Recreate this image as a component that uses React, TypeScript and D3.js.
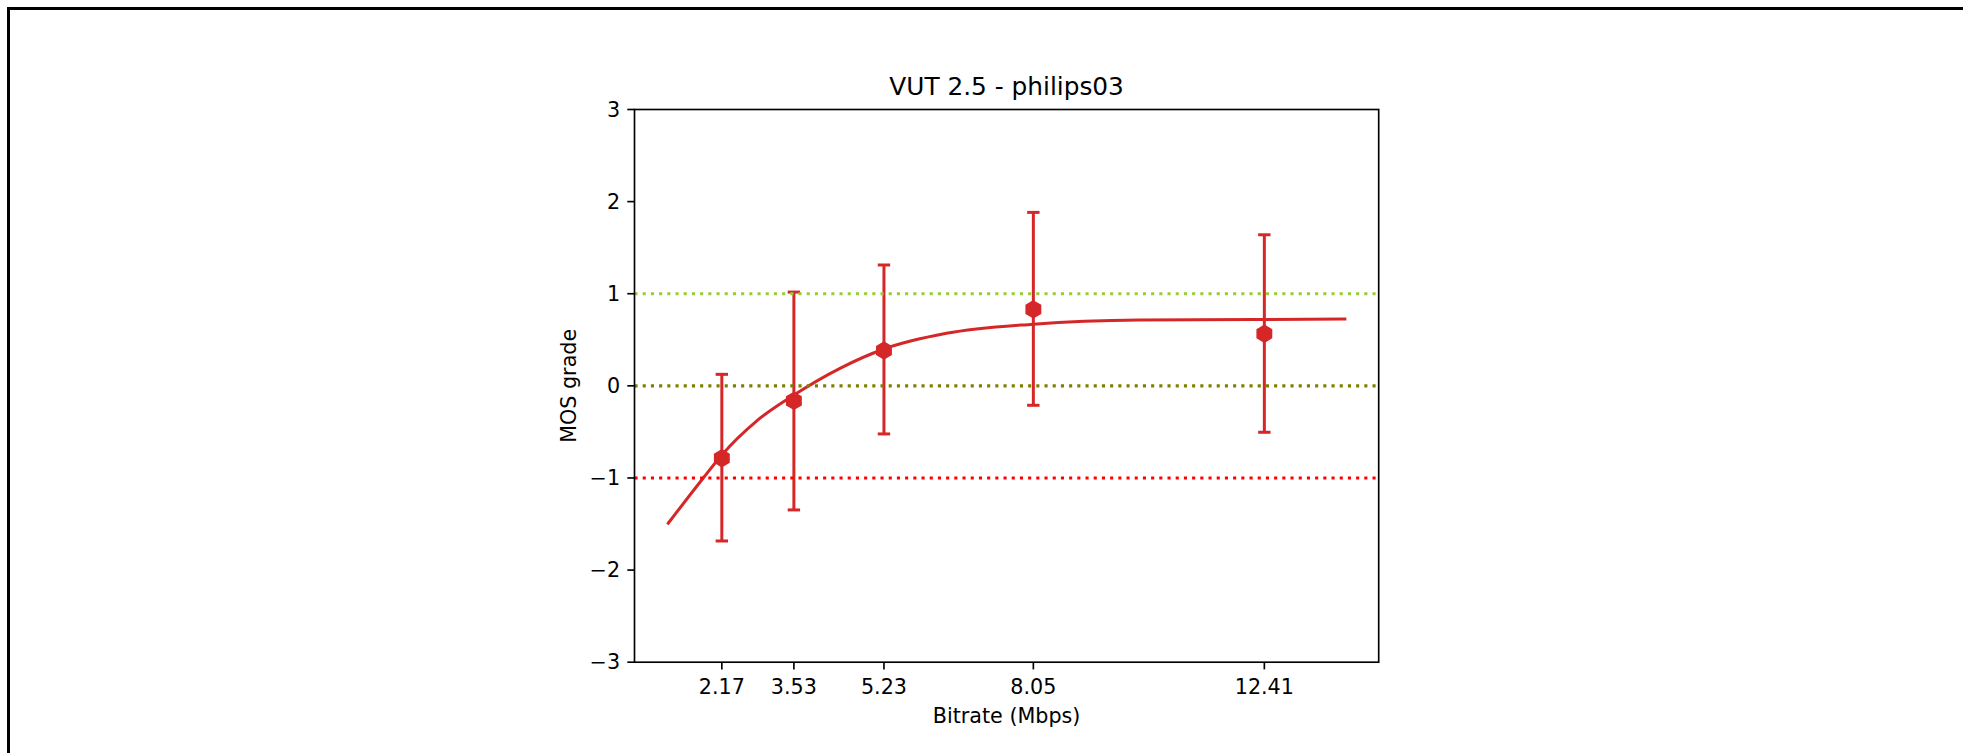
import React from "react";
import * as d3 from "d3";

const title = "VUT 2.5 - philips03";
const xLabel = "Bitrate (Mbps)";
const yLabel = "MOS grade";

const bitrates = [2.17, 3.53, 5.23, 8.05, 12.41];
const mosMean = [-0.786, -0.164, 0.384, 0.831, 0.566];
const errUpper = [0.125, 1.018, 1.312, 1.883, 1.64];
const errLower = [-1.684, -1.347, -0.522, -0.211, -0.504];

const curveX = [1.16, 1.82, 2.17, 2.83, 3.53, 4.4, 5.23, 6.41, 8.05, 10.06, 12.41, 13.93];
const curveY = [-1.49, -1.0, -0.75, -0.38, -0.1, 0.19, 0.4, 0.57, 0.67, 0.715, 0.72, 0.725];

const yTicks = [-3, -2, -1, 0, 1, 2, 3];
const refLevels = [1, 0, -1];
const refColors = ["#9acd32", "#808000", "#ff0000"];

const W = 1963;
const H = 753;
const left = 634.5;
const right = 1378.7;
const top = 109.5;
const bottom = 662.2;

const RED = "#d62728";
const FONT = "DejaVu Sans, sans-serif";

export default function App() {
  const x0 = d3.min(curveX) as number;
  const x1 = d3.max(curveX) as number;
  const span = x1 - x0;
  const x = d3.scaleLinear().domain([x0 - 0.05 * span, x1 + 0.05 * span]).range([left, right]);
  const y = d3.scaleLinear().domain([-3, 3]).range([bottom, top]);

  const line = d3
    .line<number>()
    .x((_, i) => x(curveX[i]))
    .y((d) => y(d))
    .curve(d3.curveMonotoneX);

  const hex = (cx: number, cy: number, r: number) => {
    const pts: string[] = [];
    for (let k = 0; k < 6; k++) {
      const a = Math.PI / 2 + (k * Math.PI) / 3;
      pts.push(`${cx + r * Math.cos(a)},${cy - r * Math.sin(a)}`);
    }
    return pts.join(" ");
  };

  const tickLen = 7.2;
  const cap = 6.2;

  return (
    <svg
      width={W}
      height={H}
      style={{ position: "absolute", left: 0, top: 0, background: "#fff" }}
      fontFamily={FONT}
    >
      <rect x={0} y={0} width={W} height={H} fill="#fff" />
      {/* outer frame */}
      <line x1={8.5} y1={7} x2={8.5} y2={H} stroke="#000" strokeWidth={3} />
      <line x1={7} y1={8.5} x2={W} y2={8.5} stroke="#000" strokeWidth={3} />

      {/* fitted curve */}
      <path d={line(curveY) || ""} fill="none" stroke={RED} strokeWidth={3} strokeLinecap="square" />

      {/* error bars */}
      {bitrates.map((b, i) => (
        <g key={`e${i}`} stroke={RED} strokeWidth={3}>
          <line x1={x(b)} x2={x(b)} y1={y(errLower[i])} y2={y(errUpper[i])} />
          <line x1={x(b) - cap} x2={x(b) + cap} y1={y(errLower[i])} y2={y(errLower[i])} />
          <line x1={x(b) - cap} x2={x(b) + cap} y1={y(errUpper[i])} y2={y(errUpper[i])} />
        </g>
      ))}

      {/* reference lines */}
      {refLevels.map((v, i) => (
        <line
          key={`r${i}`}
          x1={left}
          x2={right}
          y1={y(v)}
          y2={y(v)}
          stroke={refColors[i]}
          strokeWidth={3.1}
          strokeDasharray="3.1,5.1"
        />
      ))}

      {/* markers */}
      {bitrates.map((b, i) => (
        <polygon key={`m${i}`} points={hex(x(b), y(mosMean[i]), 8.3)} fill={RED} stroke={RED} strokeWidth={1.5} />
      ))}

      {/* spines */}
      <rect x={left} y={top} width={right - left} height={bottom - top} fill="none" stroke="#000" strokeWidth={1.66} />

      {/* y ticks */}
      {yTicks.map((t) => (
        <g key={`yt${t}`}>
          <line x1={left - tickLen} x2={left} y1={y(t)} y2={y(t)} stroke="#000" strokeWidth={1.66} />
          <text x={left - 14.4} y={y(t)} textAnchor="end" dominantBaseline="central" fontSize={20.7} fill="#000">
            {t < 0 ? `\u2212${Math.abs(t)}` : `${t}`}
          </text>
        </g>
      ))}

      {/* x ticks */}
      {bitrates.map((b) => (
        <g key={`xt${b}`}>
          <line x1={x(b)} x2={x(b)} y1={bottom} y2={bottom + tickLen} stroke="#000" strokeWidth={1.66} />
          <text x={x(b)} y={694} textAnchor="middle" fontSize={20.7} fill="#000">
            {b.toFixed(2)}
          </text>
        </g>
      ))}

      {/* labels */}
      <text x={(left + right) / 2} y={722.7} textAnchor="middle" fontSize={20.7} fill="#000">
        {xLabel}
      </text>
      <text
        transform={`translate(576, ${(top + bottom) / 2}) rotate(-90)`}
        textAnchor="middle"
        fontSize={20.7}
        fill="#000"
      >
        {yLabel}
      </text>
      <text x={(left + right) / 2} y={95} textAnchor="middle" fontSize={24.8} fill="#000">
        {title}
      </text>
    </svg>
  );
}
